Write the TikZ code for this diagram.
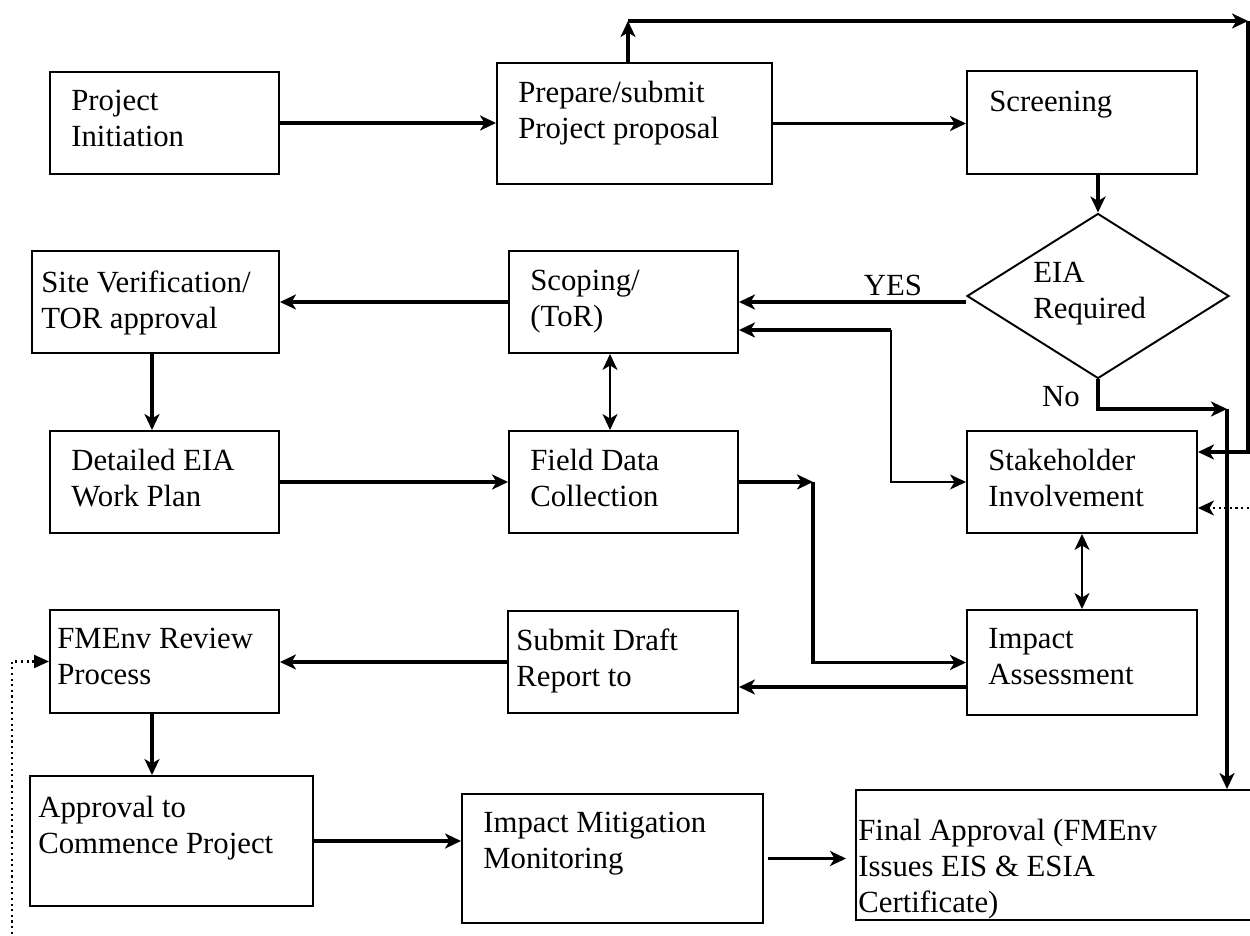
\documentclass[tikz,border=0pt]{standalone}
\usepackage{fontspec}
\setmainfont{Liberation Serif}
\usetikzlibrary{arrows.meta,shapes.geometric}

\begin{document}
\begin{tikzpicture}[
	>={Stealth[length=0.32cm,width=0.3cm,inset=0.09cm]},
	stagebox/.style={draw,line width=1.1pt,rectangle,inner sep=0pt},
	stagetext/.style={anchor=north west,align=left,inner sep=0pt,font=\fontsize{17.5}{20.5}\selectfont},
	tag/.style={inner sep=0pt,font=\fontsize{17.5}{20.5}\selectfont},
	flow/.style={line width=2.1pt}]
	\useasboundingbox (0,0) rectangle (25,18.7);
	\clip (0,0) rectangle (25,18.7);
	% boxes
	\node[stagebox,minimum width=4.58cm,minimum height=2.04cm] (init) at (3.29,16.24) {};
	\node[stagebox,minimum width=5.5cm,minimum height=2.42cm] (prop) at (12.69,16.23) {};
	\node[stagebox,minimum width=4.6cm,minimum height=2.06cm] (screen) at (21.64,16.25) {};
	\node[draw,line width=1.1pt,shape=diamond,inner sep=0pt,minimum width=5.24cm,minimum height=3.3cm] (eia) at (21.96,12.78) {};
	\node[stagebox,minimum width=4.94cm,minimum height=2.04cm] (site) at (3.11,12.66) {};
	\node[stagebox,minimum width=4.58cm,minimum height=2.04cm] (scope) at (12.47,12.66) {};
	\node[stagebox,minimum width=4.58cm,minimum height=2.04cm] (plan) at (3.29,9.06) {};
	\node[stagebox,minimum width=4.58cm,minimum height=2.04cm] (field) at (12.47,9.06) {};
	\node[stagebox,minimum width=4.6cm,minimum height=2.04cm] (stake) at (21.64,9.06) {};
	\node[stagebox,minimum width=4.58cm,minimum height=2.06cm] (fmenv) at (3.29,5.47) {};
	\node[stagebox,minimum width=4.6cm,minimum height=2.04cm] (draft) at (12.46,5.46) {};
	\node[stagebox,minimum width=4.6cm,minimum height=2.1cm] (impact) at (21.64,5.45) {};
	\node[stagebox,minimum width=5.66cm,minimum height=2.6cm] (appr) at (3.43,1.88) {};
	\node[stagebox,minimum width=6.02cm,minimum height=2.58cm] (mitig) at (12.25,1.53) {};
	\node[stagebox,minimum width=8.28cm,minimum height=2.6cm] (final) at (21.26,1.6) {};
	% texts
	\node[stagetext] (initT) at (1.42,16.9) {Project\\Initiation};
	\node[stagetext] (propT) at (10.36,17.08) {Prepare/submit\\Project proposal};
	\node[stagetext] (screenT) at (19.78,16.88) {Screening};
	\node[stagetext] (eiaT) at (20.66,13.46) {EIA\\Required};
	\node[stagetext] (siteT) at (0.82,13.3) {Site Verification/\\TOR approval};
	\node[stagetext] (scopeT) at (10.6,13.3) {Scoping/\\(ToR)};
	\node[stagetext] (planT) at (1.42,9.72) {Detailed EIA\\Work Plan};
	\node[stagetext] (fieldT) at (10.6,9.72) {Field Data\\Collection};
	\node[stagetext] (stakeT) at (19.76,9.72) {Stakeholder\\Involvement};
	\node[stagetext] (fmenvT) at (1.14,6.14) {FMEnv Review\\Process};
	\node[stagetext] (draftT) at (10.32,6.14) {Submit Draft\\Report to};
	\node[stagetext] (impactT) at (19.76,6.14) {Impact\\Assessment};
	\node[stagetext] (apprT) at (0.76,2.78) {Approval to\\Commence Project};
	\node[stagetext] (mitigT) at (9.66,2.46) {Impact Mitigation\\Monitoring};
	\node[stagetext] (finalT) at (17.16,2.32) {Final Approval (FMEnv\\Issues EIS \& ESIA\\Certificate)};
	\node[tag] (yes) at (17.86,13.0) {YES};
	\node[tag] (no) at (21.22,10.76) {No};
	% turning points
	\coordinate (split) at (17.82,12.1);
	\coordinate (bend) at (16.26,9.06);
	\coordinate (nojoin) at (24.54,10.52);
	\coordinate (topL) at (12.56,18.28);
	\coordinate (topR) at (24.96,18.28);
	\coordinate (dotR) at (25.2,8.54);
	\coordinate (dotL) at (0.24,-0.2);
	% connectors
	\draw[flow,->] (init.east) -- (init.east -| prop.west);
	\draw[flow,->] (prop.east) -- (prop.east -| screen.west);
	\draw[flow,->] (eia.north |- screen.south) -- (eia.north);
	\draw[flow,->] (scope.east -| eia.west) -- (scope.east);
	\draw[flow,->] (split) -- (split -| scope.east);
	\draw[line width=0.8pt,->] (split) |- (stake.west);
	\draw[flow,->] (scope.west) -- (site.east);
	\draw[flow,->] ([xshift=-0.07cm]site.south) -- ([xshift=-0.07cm]site.south |- plan.north);
	\draw[flow,->] (plan.east) -- (field.west);
	\draw[line width=1.1pt,<->] ([xshift=-0.27cm]scope.south) -- ([xshift=-0.27cm]field.north);
	\draw[flow,->] (field.east) -- (bend);
	\draw[flow,->] (bend) |- (impact.west);
	\draw[line width=1.1pt,<->] (stake.south) -- (impact.north);
	\draw[flow,->] ([yshift=-0.49cm]impact.west) -- ([yshift=-0.49cm]impact.west -| draft.east);
	\draw[flow,->] (draft.west) -- (draft.west -| fmenv.east);
	\draw[flow,->] ([xshift=-0.25cm]fmenv.south) -- ([xshift=-0.25cm]fmenv.south |- appr.north);
	\draw[flow,->] (appr.east) -- (appr.east -| mitig.west);
	\draw[flow,->] ([xshift=0.08cm]mitig.east) -- ([xshift=-0.18cm]mitig.east -| final.west);
	\draw[flow,->] (eia.south) |- (nojoin);
	\draw[flow,->] (nojoin) -- (nojoin |- final.north);
	\draw[flow,->] ([xshift=-0.13cm]prop.north) -- (topL);
	\draw[flow,->] (topL) -- (topR);
	\draw[flow,->] (topR) |- ([yshift=0.6cm]stake.east);
	\draw[line width=1.2pt,dotted,->] (dotR) -- ([yshift=-0.52cm]stake.east);
	\draw[line width=1.2pt,dotted,-{Triangle[length=0.3cm,width=0.26cm]}] (dotL) |- (fmenv.west);
\end{tikzpicture}
\end{document}
